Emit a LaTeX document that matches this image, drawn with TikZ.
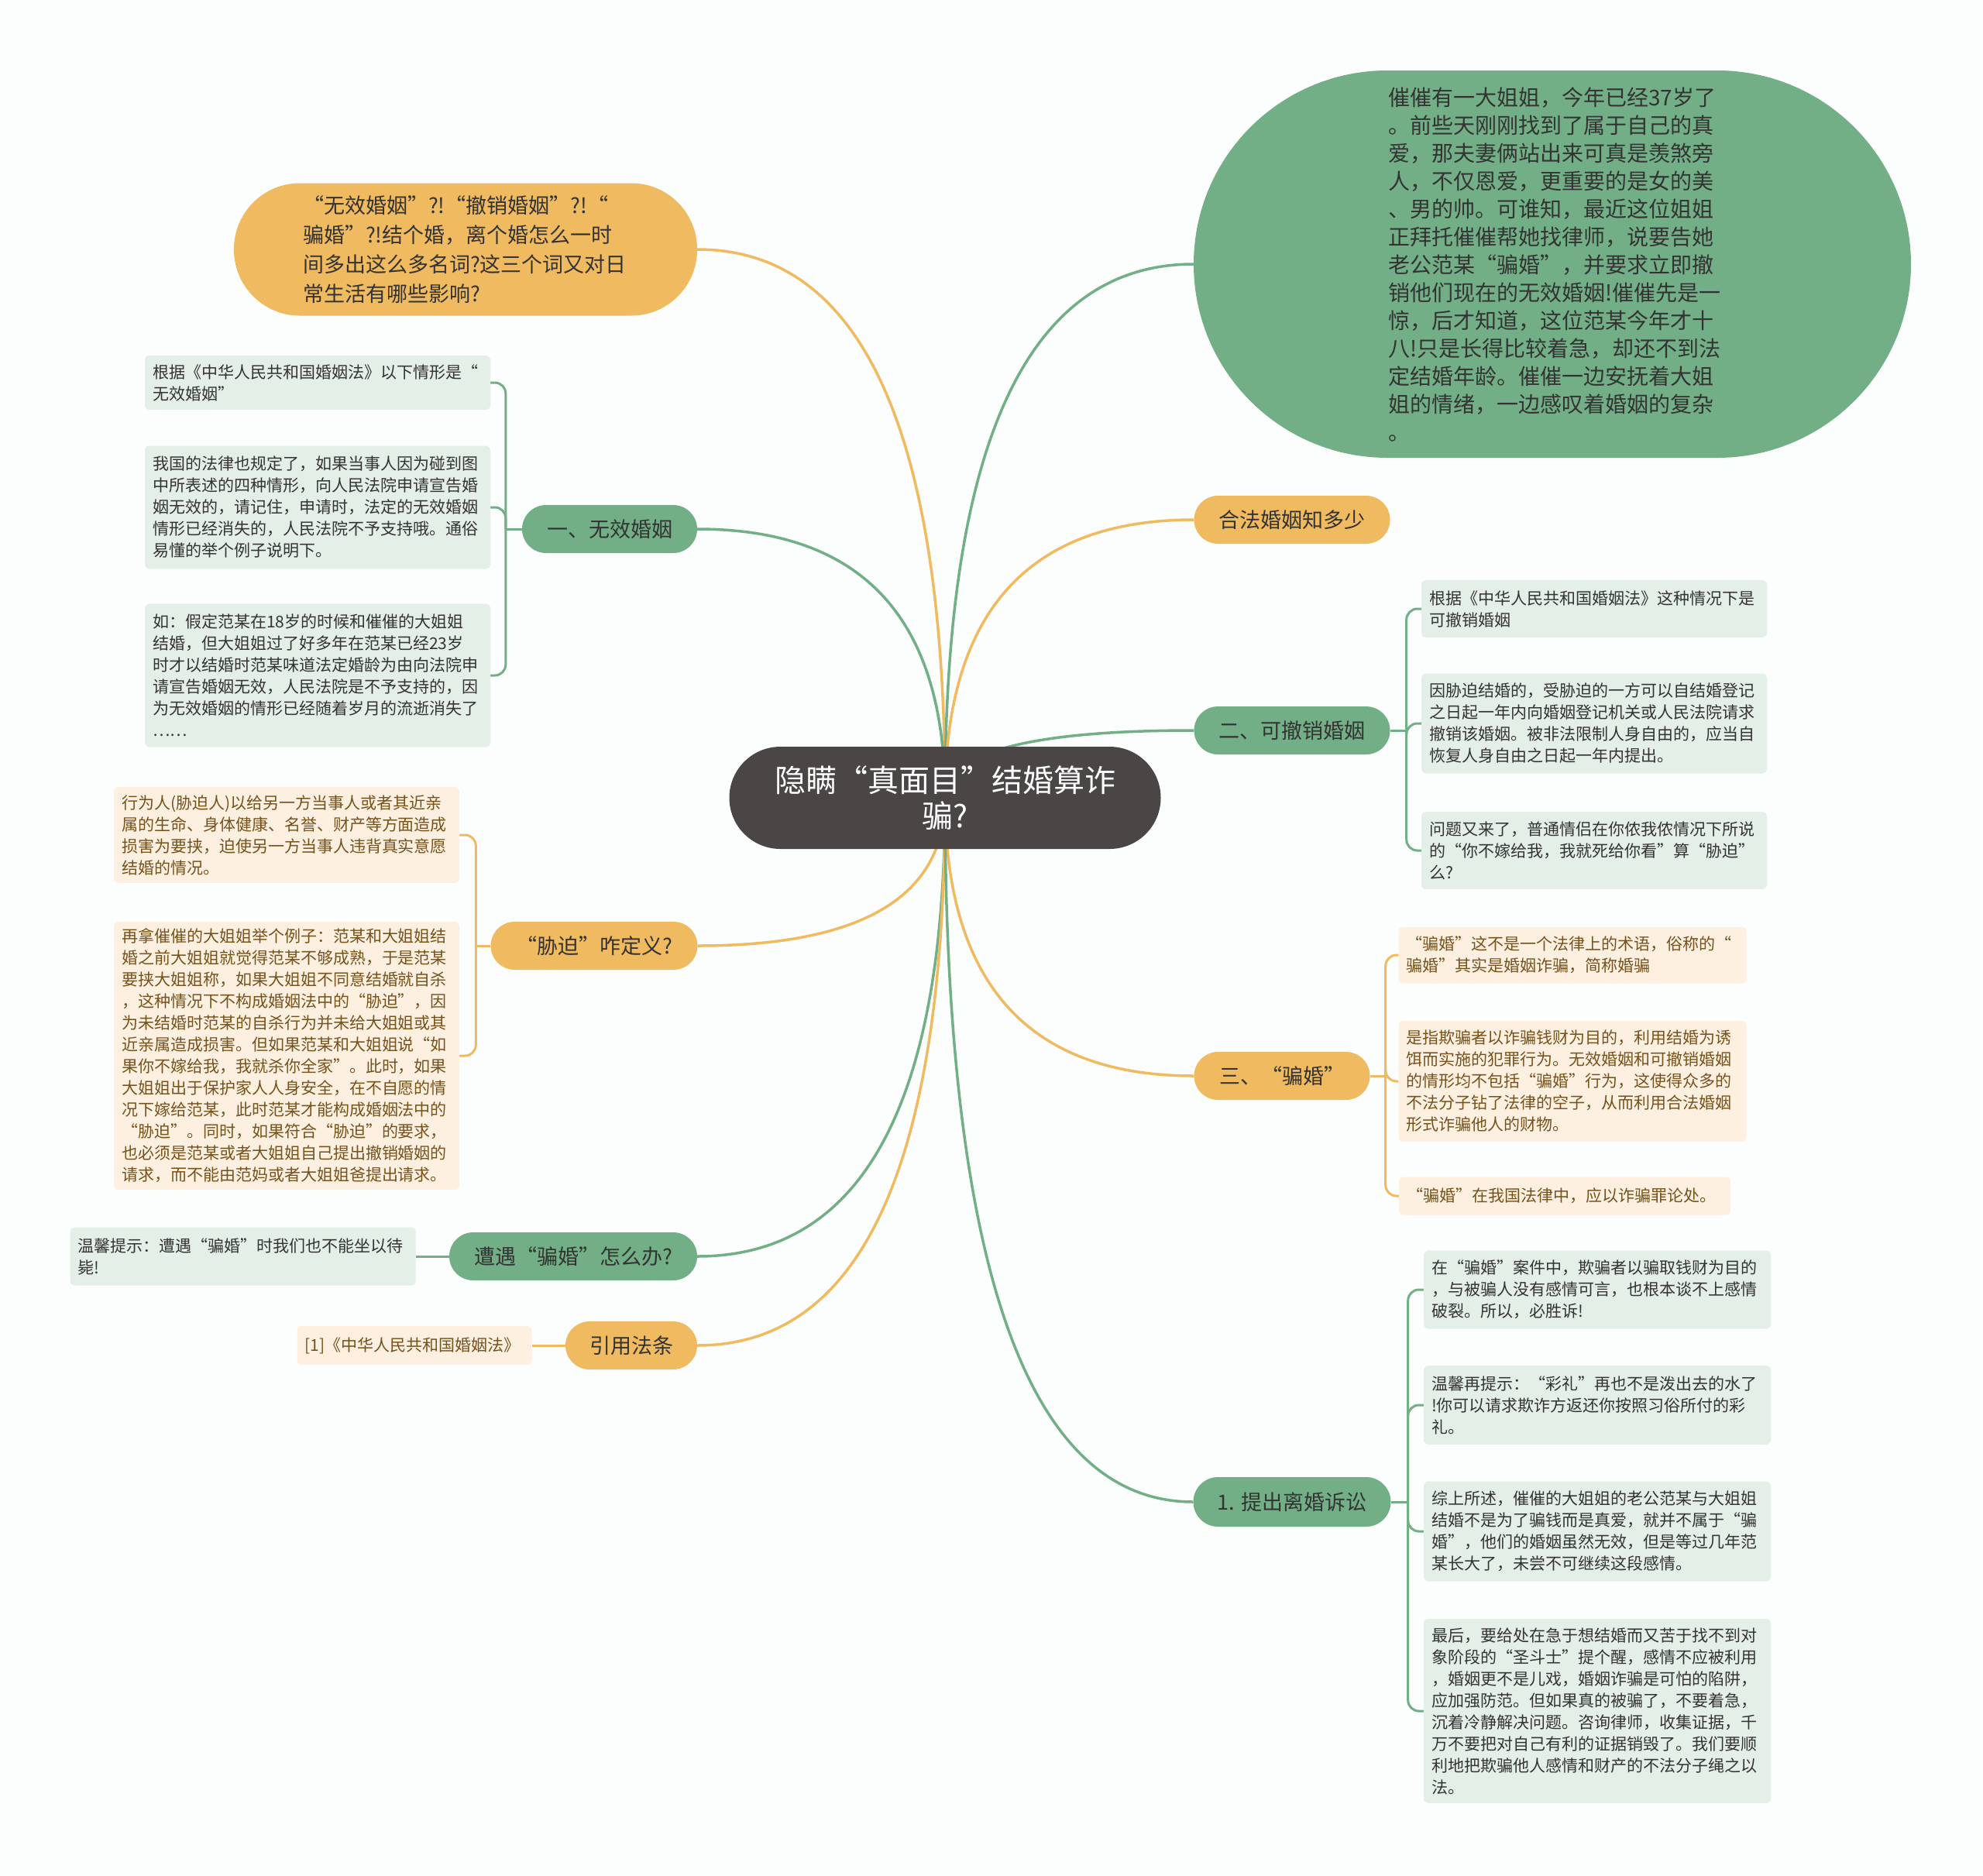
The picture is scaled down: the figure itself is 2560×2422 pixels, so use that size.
\documentclass[tikz,border=0pt]{standalone}
\usepackage{fontspec}
\setmainfont{Noto Sans CJK SC}
\usetikzlibrary{positioning,calc}

\definecolor{rootgray}{RGB}{75,70,70}
\definecolor{topicgreen}{RGB}{114,175,134}
\definecolor{topicorange}{RGB}{240,186,96}
\definecolor{leafgreen}{RGB}{228,239,231}
\definecolor{leaforange}{RGB}{253,240,225}
\definecolor{textdark}{RGB}{51,51,51}
\definecolor{textbrown}{RGB}{118,82,26}
\definecolor{paper}{RGB}{252,254,253}

\pgfdeclarelayer{bg}
\pgfsetlayers{bg,main}

\begin{document}
\begin{tikzpicture}[x=1pt, y=-1pt,
        central/.style={fill=rootgray, text=white, rounded corners=66pt, minimum width=557pt, minimum height=132pt, align=center, font=\fontsize{40pt}{46pt}\selectfont},
        topic/.style={rounded corners=31pt, minimum height=62pt, inner sep=0pt, text=textdark, font=\fontsize{27pt}{34pt}\selectfont},
        gtopic/.style={topic, fill=topicgreen},
        otopic/.style={topic, fill=topicorange},
        note/.style={rounded corners=6pt, align=left, inner xsep=10pt, inner ysep=0pt, text width=426pt, font=\fontsize{21pt}{28pt}\selectfont},
        gnote/.style={note, fill=leafgreen, text=textdark},
        onote/.style={note, fill=leaforange, text=textbrown},
        rel/.style={line width=3.5pt, to path={.. controls ($(\tikztostart)!0.667!(\tikztostart |- \tikztotarget)$) and ($(\tikztotarget)!0.667!(\tikztostart |- \tikztotarget)$) .. (\tikztotarget)}},
        grel/.style={rel, draw=topicgreen},
        orel/.style={rel, draw=topicorange},
        gbrace/.style={line width=3pt, draw=topicgreen, rounded corners=14pt},
        obrace/.style={line width=3pt, draw=topicorange, rounded corners=14pt}
    ]
        \useasboundingbox (0,0) rectangle (2560,2422);
        \begin{pgfonlayer}{bg}
            \fill[paper] (0,0) rectangle (2560,2422);
        \end{pgfonlayer}

        % centre
        \node[central] (root) at (1220,1030) {隐瞒“真面目”结婚算诈\\骗?};

        % left side
        \node[otopic, rounded corners=85pt, minimum width=598pt, minimum height=171pt, align=left, text width=420pt, font=\fontsize{27pt}{38pt}\selectfont] (quiz) at (601,322) {“无效婚姻”?!“撤销婚姻”?!“\\骗婚”?!结个婚，离个婚怎么一时\\间多出这么多名词?这三个词又对日\\常生活有哪些影响?};

        \node[gtopic, minimum width=226pt] (wuxiao) at (787,683) {一、无效婚姻};
        \node[gnote, minimum height=70pt] (wx1) at (410,494) {根据《中华人民共和国婚姻法》以下情形是“\\无效婚姻”};
        \node[gnote, minimum height=159pt] (wx2) at (410,655) {我国的法律也规定了，如果当事人因为碰到图\\中所表述的四种情形，向人民法院申请宣告婚\\姻无效的，请记住，申请时，法定的无效婚姻\\情形已经消失的，人民法院不予支持哦。通俗\\易懂的举个例子说明下。};
        \node[gnote, minimum height=185pt] (wx3) at (410,872) {如：假定范某在18岁的时候和催催的大姐姐\\结婚，但大姐姐过了好多年在范某已经23岁\\时才以结婚时范某味道法定婚龄为由向法院申\\请宣告婚姻无效，人民法院是不予支持的，因\\为无效婚姻的情形已经随着岁月的流逝消失了\\……};

        \node[otopic, minimum width=267pt] (xiepo) at (767,1221) {“胁迫”咋定义?};
        \node[onote, minimum height=124pt] (xp1) at (370,1078) {行为人(胁迫人)以给另一方当事人或者其近亲\\属的生命、身体健康、名誉、财产等方面造成\\损害为要挟，迫使另一方当事人违背真实意愿\\结婚的情况。};
        \node[onote, minimum height=346pt] (xp2) at (370,1363) {再拿催催的大姐姐举个例子：范某和大姐姐结\\婚之前大姐姐就觉得范某不够成熟，于是范某\\要挟大姐姐称，如果大姐姐不同意结婚就自杀\\，这种情况下不构成婚姻法中的“胁迫”，因\\为未结婚时范某的自杀行为并未给大姐姐或其\\近亲属造成损害。但如果范某和大姐姐说“如\\果你不嫁给我，我就杀你全家”。此时，如果\\大姐姐出于保护家人人身安全，在不自愿的情\\况下嫁给范某，此时范某才能构成婚姻法中的\\“胁迫”。同时，如果符合“胁迫”的要求，\\也必须是范某或者大姐姐自己提出撤销婚姻的\\请求，而不能由范妈或者大姐姐爸提出请求。};

        \node[gtopic, minimum width=320pt] (zaoyu) at (740,1622) {遭遇“骗婚”怎么办?};
        \node[gnote, minimum height=75pt, left=43pt of zaoyu] (zy1) {温馨提示：遭遇“骗婚”时我们也不能坐以待\\毙!};

        \node[otopic, minimum width=170pt] (yinyong) at (815,1737) {引用法条};
        \node[onote, minimum height=50pt, text width=283pt, left=43pt of yinyong] (yy1) {[1]《中华人民共和国婚姻法》};

        % right side
        \node[gtopic, rounded corners=250pt, minimum width=926pt, minimum height=500pt, align=left, text width=424pt, font=\fontsize{28pt}{36pt}\selectfont] (story) at (2004,341) {催催有一大姐姐，今年已经37岁了\\。前些天刚刚找到了属于自己的真\\爱，那夫妻俩站出来可真是羡煞旁\\人，不仅恩爱，更重要的是女的美\\、男的帅。可谁知，最近这位姐姐\\正拜托催催帮她找律师，说要告她\\老公范某“骗婚”，并要求立即撤\\销他们现在的无效婚姻!催催先是一\\惊，后才知道，这位范某今年才十\\八!只是长得比较着急，却还不到法\\定结婚年龄。催催一边安抚着大姐\\姐的情绪，一边感叹着婚姻的复杂\\。};

        \node[otopic, minimum width=253pt] (hefa) at (1668,671) {合法婚姻知多少};

        \node[gtopic, minimum width=253pt] (chexiao) at (1668,943) {二、可撤销婚姻};
        \node[gnote, minimum height=74pt] (cx1) at (2058,786) {根据《中华人民共和国婚姻法》这种情况下是\\可撤销婚姻};
        \node[gnote, minimum height=129pt] (cx2) at (2058,934) {因胁迫结婚的，受胁迫的一方可以自结婚登记\\之日起一年内向婚姻登记机关或人民法院请求\\撤销该婚姻。被非法限制人身自由的，应当自\\恢复人身自由之日起一年内提出。};
        \node[gnote, minimum height=100pt] (cx3) at (2058,1098) {问题又来了，普通情侣在你侬我侬情况下所说\\的“你不嫁给我，我就死给你看”算“胁迫”\\么?};

        \node[otopic, minimum width=227pt] (pianhun) at (1655,1389) {三、“骗婚”};
        \node[onote, minimum height=73pt, text width=429pt] (ph1) at (2030,1233) {“骗婚”这不是一个法律上的术语，俗称的“\\骗婚”其实是婚姻诈骗，简称婚骗};
        \node[onote, minimum height=156pt, text width=429pt] (ph2) at (2030,1396) {是指欺骗者以诈骗钱财为目的，利用结婚为诱\\饵而实施的犯罪行为。无效婚姻和可撤销婚姻\\的情形均不包括“骗婚”行为，这使得众多的\\不法分子钻了法律的空子，从而利用合法婚姻\\形式诈骗他人的财物。};
        \node[onote, minimum height=49pt, text width=408pt] (ph3) at (2020,1544) {“骗婚”在我国法律中，应以诈骗罪论处。};

        \node[gtopic, minimum width=255pt, minimum height=64pt, rounded corners=32pt] (susong) at (1668,1939) {1. 提出离婚诉讼};
        \node[gnote, minimum height=101pt, text width=428pt] (ss1) at (2062,1665) {在“骗婚”案件中，欺骗者以骗取钱财为目的\\，与被骗人没有感情可言，也根本谈不上感情\\破裂。所以，必胜诉!};
        \node[gnote, minimum height=102pt, text width=428pt] (ss2) at (2062,1814) {温馨再提示：“彩礼”再也不是泼出去的水了\\!你可以请求欺诈方返还你按照习俗所付的彩\\礼。};
        \node[gnote, minimum height=129pt, text width=428pt] (ss3) at (2062,1977) {综上所述，催催的大姐姐的老公范某与大姐姐\\结婚不是为了骗钱而是真爱，就并不属于“骗\\婚”，他们的婚姻虽然无效，但是等过几年范\\某长大了，未尝不可继续这段感情。};
        \node[gnote, minimum height=238pt, text width=428pt] (ss4) at (2062,2209) {最后，要给处在急于想结婚而又苦于找不到对\\象阶段的“圣斗士”提个醒，感情不应被利用\\，婚姻更不是儿戏，婚姻诈骗是可怕的陷阱，\\应加强防范。但如果真的被骗了，不要着急，\\沉着冷静解决问题。咨询律师，收集证据，千\\万不要把对自己有利的证据销毁了。我们要顺\\利地把欺骗他人感情和财产的不法分子绳之以\\法。};

        % branch junctions
        \coordinate (wxj) at ($(wuxiao.west)+(-21,0)$);
        \coordinate (xpj) at ($(xiepo.west)+(-19,0)$);
        \coordinate (cxj) at ($(chexiao.east)+(21,0)$);
        \coordinate (phj) at ($(pianhun.east)+(20,0)$);
        \coordinate (ssj) at ($(susong.east)+(22,0)$);

        \begin{pgfonlayer}{bg}
            \draw[orel] (root.center) to (quiz.east);
            \draw[grel] (root.center) to (wuxiao.east);
            \draw[orel] (root.center) to (xiepo.east);
            \draw[grel] (root.center) to (zaoyu.east);
            \draw[orel] (root.center) to (yinyong.east);
            \draw[grel] (root.center) to (story.west);
            \draw[orel] (root.center) to (hefa.west);
            \draw[grel] (root.center) to (chexiao.west);
            \draw[orel] (root.center) to (pianhun.west);
            \draw[grel] (root.center) to (susong.west);

            \draw[gbrace] (wuxiao.west) -- (wxj);
            \foreach \n in {wx1,wx2,wx3} \draw[gbrace] (wxj) |- (\n.east);
            \draw[obrace] (xiepo.west) -- (xpj);
            \foreach \n in {xp1,xp2} \draw[obrace] (xpj) |- (\n.east);
            \draw[gbrace] (zaoyu.west) -- (zy1.east);
            \draw[obrace] (yinyong.west) -- (yy1.east);
            \draw[gbrace] (chexiao.east) -- (cxj);
            \foreach \n in {cx1,cx2,cx3} \draw[gbrace] (cxj) |- (\n.west);
            \draw[obrace] (pianhun.east) -- (phj);
            \foreach \n in {ph1,ph2,ph3} \draw[obrace] (phj) |- (\n.west);
            \draw[gbrace] (susong.east) -- (ssj);
            \foreach \n in {ss1,ss2,ss3,ss4} \draw[gbrace] (ssj) |- (\n.west);
        \end{pgfonlayer}

    \end{tikzpicture}
\end{document}
